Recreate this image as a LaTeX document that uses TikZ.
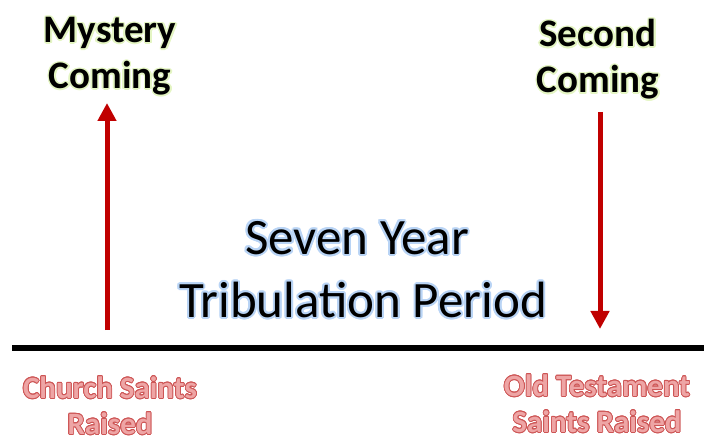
\documentclass[tikz,border=0pt]{standalone}
\usepackage{fontspec}
\setmainfont{Carlito}
\usepackage{xcolor}
\usepackage{contour}
\usetikzlibrary{arrows.meta}

\definecolor{arrowred}{RGB}{192,0,0}
\definecolor{glowgreen}{RGB}{228,245,195}
\definecolor{glowblue}{RGB}{185,212,245}
\definecolor{saintfill}{RGB}{238,165,165}
\definecolor{saintline}{RGB}{205,85,85}

\newcommand{\greenglow}[1]{\contour{glowgreen}{#1}}
\newcommand{\blueglow}[1]{\contour{glowblue}{#1}}
\newcommand{\saintword}[1]{\contour{saintline}{#1}}

\tikzset{
  coming/.style={inner sep=0pt,align=center,font=\fontsize{39}{46}\selectfont\bfseries\contourlength{1.5pt}},
  period/.style={inner sep=0pt,align=center,font=\fontsize{51}{62}\selectfont\contourlength{2pt}},
  saints/.style={inner sep=0pt,align=center,text=saintfill,font=\fontsize{31}{36}\selectfont\bfseries\contourlength{0.8pt}},
  rapture/.style={arrowred,line width=5pt,-{Triangle[width=18pt,length=18pt]}}
}

\begin{document}
\begin{tikzpicture}[x=1pt,y=-1pt]
      \useasboundingbox (0,0) rectangle (704,438);
      \node[coming] (mystery) at (110,57) {\greenglow{Mystery}\\\greenglow{Coming}};
      \node[coming] (second) at (598,60) {\greenglow{Second}\\\greenglow{Coming}};
      \node[period] (seven) at (357,239) {\blueglow{Seven Year}};
      \node[period] (tribulation) at (363,301) {\blueglow{Tribulation Period}};
      \coordinate (timelineStart) at (12,348);
      \coordinate (timelineEnd) at (704,348);
      \draw[line width=6pt] (timelineStart) -- (timelineEnd);
      \coordinate (churchBase) at (107,330);
      \coordinate (mysteryTip) at (107,103);
      \draw[rapture] (churchBase) -- (mysteryTip);
      \coordinate (secondTop) at (600,112);
      \coordinate (oldBase) at (600,329);
      \draw[rapture] (secondTop) -- (oldBase);
      \node[saints] (church) at (110,406) {\saintword{Church Saints}\\\saintword{Raised}};
      \node[saints] (oldtestament) at (597,404) {\saintword{Old Testament}\\\saintword{Saints Raised}};
    \end{tikzpicture}
\end{document}
